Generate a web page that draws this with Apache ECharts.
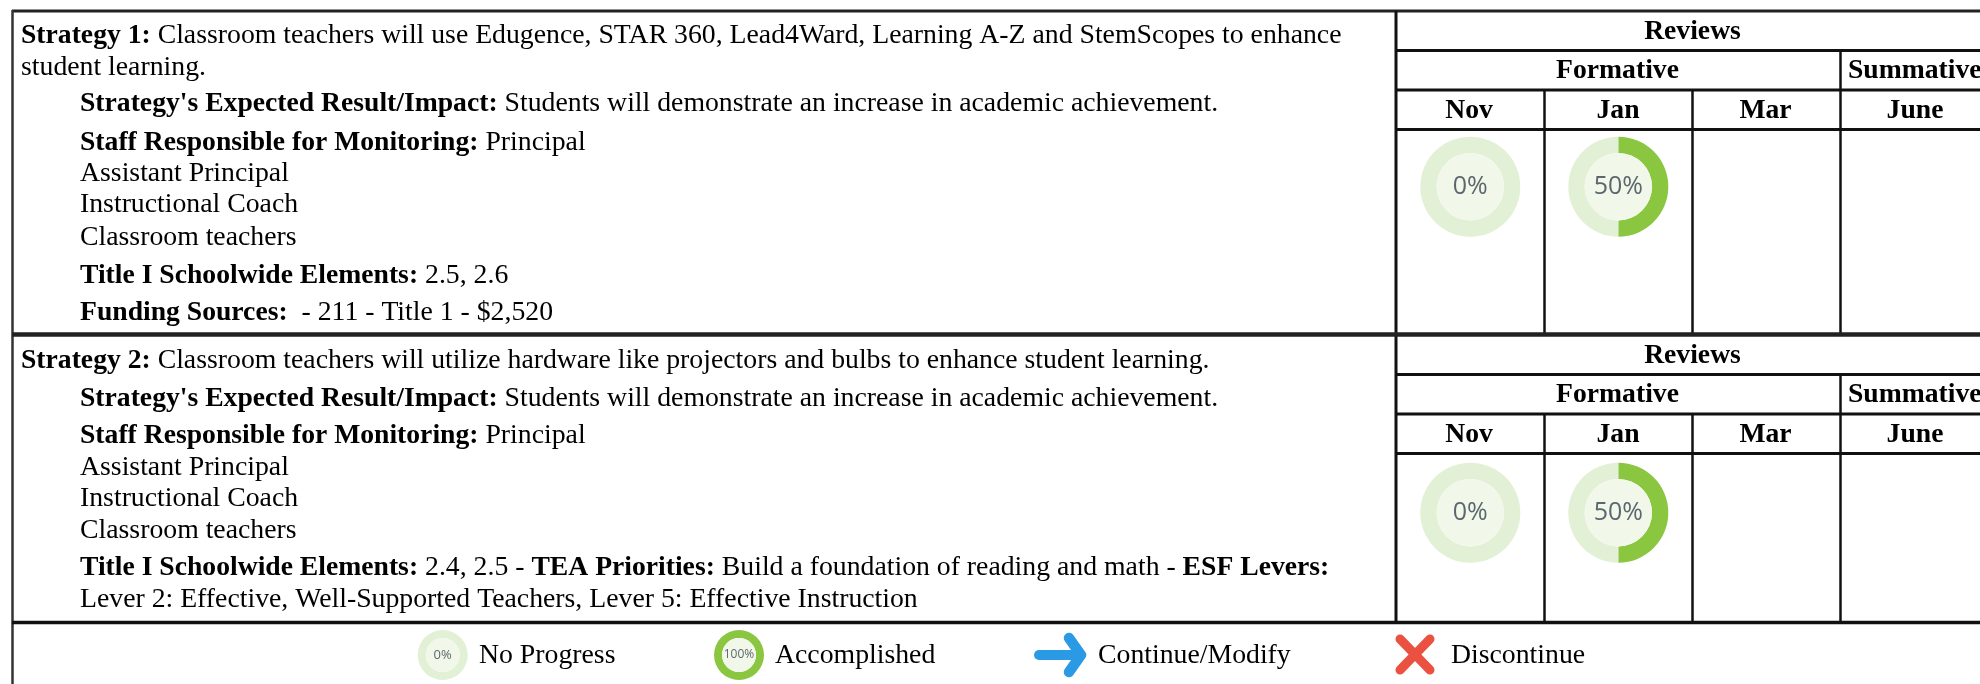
<!DOCTYPE html>
<html>
<head>
<meta charset="utf-8">
<style>html,body{margin:0;padding:0;background:#fff}#c{width:1980px;height:684px}</style>
<script src="https://cdn.jsdelivr.net/npm/echarts@6/dist/echarts.min.js"></script>
</head>
<body>
<div id="c"></div>
<script>
const months = ['Nov', 'Jan', 'Mar', 'June'];
const reviewTitle = 'Reviews';
const formativeTitle = 'Formative';
const summativeTitle = 'Summative';
const strategy1Progress = [0, 50, null, null];
const strategy2Progress = [0, 50, null, null];
const legendProgress = [0, 100];
const legendLabels = ['No Progress', 'Accomplished', 'Continue/Modify', 'Discontinue'];
const strategy1Lines = [
  [['b', 'Strategy 1:'], ['r', ' Classroom teachers will use Edugence, STAR 360, Lead4Ward, Learning A-Z and StemScopes to enhance']],
  [['r', 'student learning.']],
  [['b', "Strategy's Expected Result/Impact:"], ['r', ' Students will demonstrate an increase in academic achievement.']],
  [['b', 'Staff Responsible for Monitoring:'], ['r', ' Principal']],
  [['r', 'Assistant Principal']],
  [['r', 'Instructional Coach']],
  [['r', 'Classroom teachers']],
  [['b', 'Title I Schoolwide Elements:'], ['r', ' 2.5, 2.6']],
  [['b', 'Funding Sources:'], ['r', '  - 211 - Title 1 - $2,520']]
];
const strategy2Lines = [
  [['b', 'Strategy 2:'], ['r', ' Classroom teachers will utilize hardware like projectors and bulbs to enhance student learning.']],
  [['b', "Strategy's Expected Result/Impact:"], ['r', ' Students will demonstrate an increase in academic achievement.']],
  [['b', 'Staff Responsible for Monitoring:'], ['r', ' Principal']],
  [['r', 'Assistant Principal']],
  [['r', 'Instructional Coach']],
  [['r', 'Classroom teachers']],
  [['b', 'Title I Schoolwide Elements:'], ['r', ' 2.4, 2.5 - '], ['b', 'TEA Priorities:'], ['r', ' Build a foundation of reading and math - '], ['b', 'ESF Levers:']],
  [['r', 'Lever 2: Effective, Well-Supported Teachers, Lever 5: Effective Instruction']]
];

// layout
const SERIF = '"Liberation Serif","Times New Roman",serif';
const FS = 27.75, FB = 27.65, W = 1980;
const colX = [1396, 1544.5, 1692.5, 1840.5];
const colC = [1469, 1618, 1765.5, 1915];
const s1Y = [36, 68, 104, 143, 174, 205, 238, 276, 313];
const s1X = [21, 21, 80, 80, 80, 80, 80, 80, 80];
const s2Y = [361, 399, 436, 468, 499, 531, 568, 600];
const s2X = [21, 80, 80, 80, 80, 80, 80, 80];
const RING = '#e2f0d5', INNER = '#f1f8ea', DONE = '#8ac63f', LBL = '#5c666e';

const g = [];
const meas = document.createElement('canvas').getContext('2d');
function line(x1, y1, x2, y2, w, c) {
  g.push({type: 'line', silent: true, shape: {x1, y1, x2, y2}, style: {stroke: c || '#111', lineWidth: w}});
}
function textLine(segs, x, y) {
  let cur = x;
  segs.forEach(s => {
    const bold = s[0] === 'b', size = bold ? FB : FS;
    const weight = bold ? 'bold' : 'normal';
    meas.font = weight + ' ' + size + 'px ' + SERIF;
    g.push({type: 'text', silent: true, x: cur, y, style: {
      text: s[1], align: 'left', verticalAlign: 'middle',
      fontFamily: SERIF, fontSize: size, fontWeight: weight, fill: '#000'
    }});
    cur += meas.measureText(s[1]).width;
  });
}
function header(t, x, y, align) {
  g.push({type: 'text', silent: true, x, y, style: {
    text: t, align: align || 'center', verticalAlign: 'middle',
    fontFamily: SERIF, fontSize: FB, fontWeight: 'bold', fill: '#000'
  }});
}
strategy1Lines.forEach((l, i) => textLine(l, s1X[i], s1Y[i]));
strategy2Lines.forEach((l, i) => textLine(l, s2X[i], s2Y[i]));

// table rules
line(12, 11, W, 11, 3, '#222');
line(12.5, 10, 12.5, 684, 2.5, '#333');
[[11, 335], [335, 623]].forEach(r => line(colX[0], r[0], colX[0], r[1], 3));
[[11, 335], [336, 623]].forEach((r, k) => {
  const t = k ? 335 : 11;
  line(colX[0], t + 39.5, W, t + 39.5, 3);
  line(colX[0], t + 79, W, t + 79, 3);
  line(colX[0], t + 118.5, W, t + 118.5, 3);
  line(colX[3], t + 39.5, colX[3], r[1], 2.5);
  line(colX[1], t + 79, colX[1], r[1], 2.5);
  line(colX[2], t + 79, colX[2], r[1], 2.5);
  header(reviewTitle, 1692.5, t + 20.5);
  header(formativeTitle, 1617.5, t + 60);
  header(summativeTitle, 1848, t + 60, 'left');
  months.forEach((m, i) => header(m, colC[i], t + 99.5));
});
line(12, 334.5, W, 334.5, 4.5, '#222');
line(12, 622.5, W, 622.5, 3.5, '#111');

// legend text
[479, 775, 1098, 1451].forEach((x, i) => g.push({type: 'text', silent: true, x, y: 655.5, style: {
  text: legendLabels[i], align: 'left', verticalAlign: 'middle', fontFamily: SERIF, fontSize: FS, fill: '#000'
}}));

// legend arrow and cross
const ARROW = '#2a9ae5', CROSS = '#eb5140';
g.push({type: 'polyline', silent: true, shape: {points: [[1039, 655], [1080, 655]]},
  style: {stroke: ARROW, lineWidth: 10, lineCap: 'round', fill: null}});
g.push({type: 'polyline', silent: true, shape: {points: [[1069, 638], [1081, 655], [1069, 672]]},
  style: {stroke: ARROW, lineWidth: 10.5, lineCap: 'round', lineJoin: 'round', fill: null}});
g.push({type: 'line', silent: true, shape: {x1: 1400, y1: 639, x2: 1430, y2: 670}, style: {stroke: CROSS, lineWidth: 9, lineCap: 'round'}});
g.push({type: 'line', silent: true, shape: {x1: 1430, y1: 639, x2: 1400, y2: 670}, style: {stroke: CROSS, lineWidth: 9, lineCap: 'round'}});

// donuts
const series = [];
function donut(v, cx, cy, R, r, fs) {
  const base = {type: 'pie', center: [cx, cy], silent: true, animation: false, startAngle: 90, clockwise: true,
    emphasis: {disabled: true}, labelLine: {show: false}, avoidLabelOverlap: false};
  series.push(Object.assign({}, base, {
    radius: [r, R], label: {show: false},
    data: [{value: v, itemStyle: {color: DONE}}, {value: 100 - v, itemStyle: {color: RING}}]
  }));
  series.push(Object.assign({}, base, {
    radius: [0, r],
    label: {show: true, position: 'center', formatter: v + '%', fontFamily: '"Open Sans","Noto Sans",sans-serif', fontSize: fs, color: LBL},
    data: [{value: 1, itemStyle: {color: INNER}}]
  }));
}
[[strategy1Progress, 186.7], [strategy2Progress, 512.7]].forEach(([vals, cy]) => {
  vals.forEach((v, i) => { if (v !== null) donut(v, [1470.3, 1618.3][i], cy, 50, 33.7, 25); });
});
donut(legendProgress[0], 442.7, 655, 25, 17, 13);
donut(legendProgress[1], 739, 655, 25, 17, 12);

const chart = echarts.init(document.getElementById('c'), null, {renderer: 'canvas', width: 1980, height: 684});
chart.setOption({backgroundColor: '#fff', animation: false, tooltip: {show: false}, series, graphic: {elements: g}});
</script>
</body>
</html>
